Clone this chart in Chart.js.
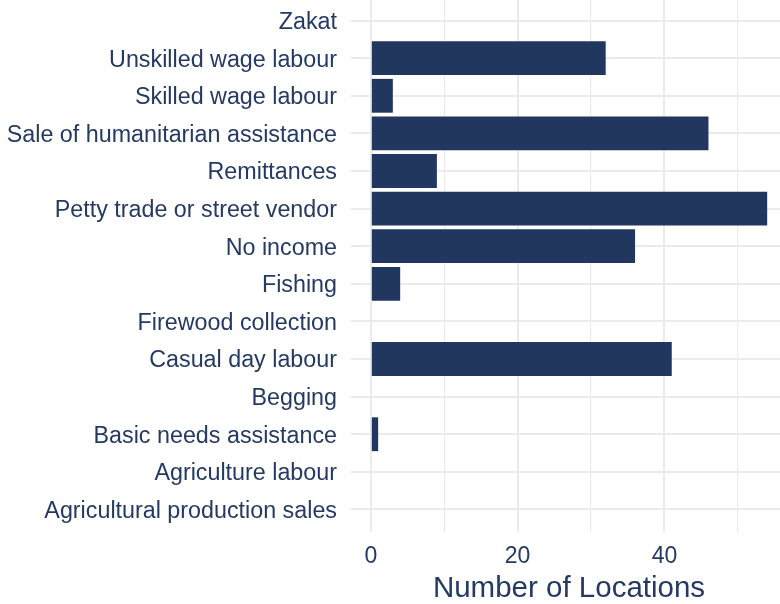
<!DOCTYPE html>
<html>
<head>
<meta charset="utf-8">
<script src="https://cdn.jsdelivr.net/npm/chart.js@4"></script>
<style>
  html, body { margin: 0; padding: 0; width: 780px; height: 604px; overflow: hidden; background: #ffffff; }
  #c { position: absolute; left: 0; top: -2px; }
</style>
</head>
<body>
<canvas id="c" width="787" height="607"></canvas>
<script>
// Data (top-to-bottom order as displayed)
const categories = [
  "Zakat",
  "Unskilled wage labour",
  "Skilled wage labour",
  "Sale of humanitarian assistance",
  "Remittances",
  "Petty trade or street vendor",
  "No income",
  "Fishing",
  "Firewood collection",
  "Casual day labour",
  "Begging",
  "Basic needs assistance",
  "Agriculture labour",
  "Agricultural production sales"
];
const locationCounts = [0, 32, 3, 46, 9, 54, 36, 4, 0, 41, 0, 1, 0, 0];
const xGridValues = [0, 10, 20, 30, 40, 50];
const xTickLabels = [0, 20, 40];
const xAxisTitle = "Number of Locations";

const NAVY = "#22375f";
const TEXT = "#253a63";
const GRID = "#ebebeb";
const FONT = "'Liberation Sans', Arial, sans-serif";

const points = locationCounts.map((v, i) => ({ x: v, y: i }));

new Chart(document.getElementById("c"), {
  type: "bar",
  data: {
    datasets: [{
      data: points,
      backgroundColor: NAVY,
      borderWidth: 0,
      barPercentage: 0.9,
      categoryPercentage: 1.0
    }]
  },
  options: {
    indexAxis: "y",
    responsive: false,
    animation: false,
    devicePixelRatio: 1,
    layout: { padding: 0 },
    plugins: { legend: { display: false }, tooltip: { enabled: false } },
    scales: {
      y: {
        type: "linear",
        reverse: true,
        offset: false,
        min: -0.6,
        max: categories.length - 1 + 0.6,
        afterBuildTicks: (s) => { s.ticks = categories.map((_, i) => ({ value: i })); },
        afterFit: (s) => { s.width = 351; s.paddingTop = 0; s.paddingBottom = 0; },
        border: { display: false },
        grid: { color: GRID, lineWidth: 2, drawTicks: false, offset: false },
        ticks: {
          autoSkip: false,
          padding: 14,
          labelOffset: 2,
          color: TEXT,
          font: { family: FONT, size: 23.3 },
          callback: (v) => categories[v] !== undefined ? categories[v] : ""
        }
      },
      x: {
        type: "linear",
        offset: false,
        min: -2.7,
        max: 56.7,
        afterBuildTicks: (s) => { s.ticks = xGridValues.map(v => ({ value: v })); },
        afterFit: (s) => { s.height = 73; s.paddingLeft = 0; s.paddingRight = 0; },
        border: { display: false },
        grid: {
          color: GRID,
          lineWidth: (ctx) => (ctx.tick && xTickLabels.includes(ctx.tick.value)) ? 2 : 1.2,
          drawTicks: false,
          offset: false
        },
        ticks: {
          autoSkip: false,
          maxRotation: 0,
          padding: 11,
          color: TEXT,
          font: { family: FONT, size: 23 },
          callback: (v) => xTickLabels.includes(v) ? String(v) : ""
        },
        title: {
          display: true,
          text: xAxisTitle,
          color: TEXT,
          font: { family: FONT, size: 29.5 },
          padding: { top: 0, bottom: -2 }
        }
      }
    }
  }
});
</script>
</body>
</html>
